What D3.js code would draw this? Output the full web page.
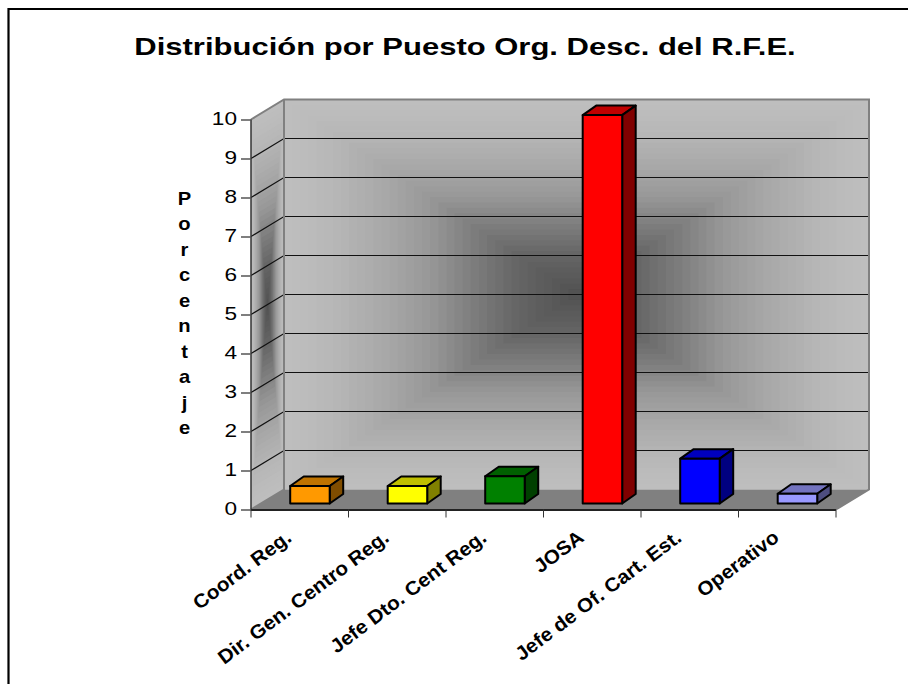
<!DOCTYPE html>
<html><head><meta charset="utf-8">
<style>html,body{margin:0;padding:0;background:#fff}svg{display:block}text{font-family:"Liberation Sans",Arial,sans-serif;fill:#000}</style>
<script src="https://cdn.jsdelivr.net/npm/d3@7"></script></head>
<body><script>
const categories = ["Coord. Reg.","Dir. Gen. Centro Reg.","Jefe Dto. Cent Reg.","JOSA","Jefe de Of. Cart. Est.","Operativo"];
const values = [0.45,0.45,0.7,9.96,1.15,0.25];
const barColors = ["#ff9900","#ffff00","#008000","#ff0000","#0000ff","#9999ff"];
const yTicks = [0,1,2,3,4,5,6,7,8,9,10];
const titleText = "Distribución por Puesto Org. Desc. del R.F.E.";
const yTitle = "Porcentaje";
const gradStops = [0,0.15,0.33,0.5,0.67,0.8,1];
const gradColors = ["#bebebe","#b8b8b8","#a9a9a9","#979797","#7a7a7a","#666666","#525252"];

const W=908,H=684;
const svg=d3.select("body").append("svg").attr("width",W).attr("height",H);
const x0=251,x1=836,y0=509.5,y1=119.5,dx=33,dy=-20;
const x=d3.scaleBand().domain(categories).range([x0,x1]);
const y=d3.scaleLinear().domain([0,10]).range([y0,y1]);
const shade=d3.scaleLinear().domain(gradStops).range(gradColors);
const pts=a=>a.map(p=>p.join(",")).join(" ");

// frame
svg.append("path").attr("d",`M8.5,${H}V9H${W}`).attr("fill","none").attr("stroke","#000").attr("stroke-width",2.2);

// title
svg.append("text").attr("text-anchor","middle").attr("transform","translate(465,54.5) scale(1.32,1)")
  .attr("font-size",23.5).attr("font-weight","bold").text(titleText);

// stepped "rectangular" wall gradient
const N=36, rings=d3.range(N);
function quad(cx,cy,t,corners){return corners.map(c=>[cx+(c[0]-cx)*t,cy+(c[1]-cy)*t]);}
const back=[[x0+dx,y1+dy],[x1+dx,y1+dy],[x1+dx,y0+dy],[x0+dx,y0+dy]];
const side=[[x0,y1],[x0+dx,y1+dy],[x0+dx,y0+dy],[x0,y0]];
const cxB=x0+dx+(x1-x0)/2, cyB=(y0+y1)/2+dy;
const cxS=x0+dx/2, cyS=(y0+y1)/2+dy/2;
[[back,cxB,cyB],[side,cxS,cyS]].forEach(([c,cx,cy])=>{
  svg.append("g").selectAll("polygon").data(rings).join("polygon")
    .attr("points",i=>pts(quad(cx,cy,1-i/N,c)))
    .attr("fill",i=>shade(i/(N-1)));
});

// floor
svg.append("polygon").attr("points",pts([[x0,y0],[x1,y0],[x1+dx,y0+dy],[x0+dx,y0+dy]])).attr("fill","#808080");

// gridlines
const grid=svg.append("g").attr("fill","none").attr("stroke","#111").attr("stroke-width",1.2);
yTicks.filter(d=>d>0&&d<10).forEach(d=>{
  grid.append("path").attr("d",`M${x0},${y(d)}L${x0+dx},${y(d)+dy}L${x1+dx},${y(d)+dy}`);
});
// wall edges
svg.append("path").attr("fill","none").attr("stroke","#808080").attr("stroke-width",2)
  .attr("d",`M${x0},${y1}L${x0+dx},${y1+dy}H${x1+dx}V${y0+dy}L${x1},${y0} M${x0+dx},${y1+dy}V${y0+dy}L${x0},${y0}`);

// axes
const axisY=d3.axisLeft(y).tickValues(yTicks).tickSize(10).tickPadding(0);
const gy=svg.append("g").attr("transform",`translate(${x0},0)`).call(axisY);
gy.selectAll("text").attr("font-size",19).attr("font-family",'"Liberation Sans"').attr("x",0).attr("dy","5.3px")
  .attr("transform","translate(-14,0) scale(1.19,1)");
gy.selectAll("line").attr("stroke","#555").attr("stroke-width",1.5);
gy.select(".domain").attr("stroke","#333").attr("stroke-width",1.5).attr("d",`M0,${y1}V${y0}`);

const axisX=d3.axisBottom(x).tickSize(0).tickFormat("");
const gx=svg.append("g").attr("transform",`translate(0,${y0})`).call(axisX);
gx.select(".domain").attr("stroke","#222").attr("stroke-width",2).attr("d",`M${x0},0.5H${x1}`);
gx.append("g").selectAll("line").data(categories.concat("")).join("line")
  .attr("x1",(d,i)=>x0+i*x.bandwidth()).attr("x2",(d,i)=>x0+i*x.bandwidth())
  .attr("y1",0).attr("y2",8).attr("stroke","#333").attr("stroke-width",1);

// bars
const barW=39.5,bdx=13.5,bdy=-9.5,shiftX=10.2,shiftY=-6;
const bars=svg.append("g").selectAll("g").data(categories).join("g")
  .attr("stroke","#000").attr("stroke-width",2).attr("stroke-linejoin","round");
bars.each(function(c,i){
  const g=d3.select(this), col=d3.color(barColors[i]);
  const l=x(c)+x.bandwidth()/2+shiftX-barW/2, r=l+barW;
  const b=y(0)+shiftY, t=y(values[i])+shiftY;
  g.append("polygon").attr("points",pts([[l,t],[r,t],[r+bdx,t+bdy],[l+bdx,t+bdy]])).attr("fill",d3.rgb(col.r*.75,col.g*.75,col.b*.75));
  g.append("polygon").attr("points",pts([[r,t],[r+bdx,t+bdy],[r+bdx,b+bdy],[r,b]])).attr("fill",d3.rgb(col.r*.5,col.g*.5,col.b*.5));
  g.append("rect").attr("x",l).attr("y",t).attr("width",barW).attr("height",b-t).attr("fill",col);
});

// category labels
svg.append("g").selectAll("text").data(categories).join("text")
  .attr("text-anchor","end").attr("font-size",19.5).attr("font-weight","bold")
  .attr("transform",c=>`translate(${x(c)+x.bandwidth()/2-7},540) rotate(-37) scale(1.06,1)`).text(c=>c);

// y title
svg.append("g").selectAll("text").data(yTitle.split("")).join("text")
  .attr("text-anchor","middle")
  .attr("transform",(d,i)=>`translate(184.5,${205+i*25.45}) scale(1.12,1)`)
  .attr("font-size",18).attr("font-weight","bold").text(d=>d);
</script></body></html>
